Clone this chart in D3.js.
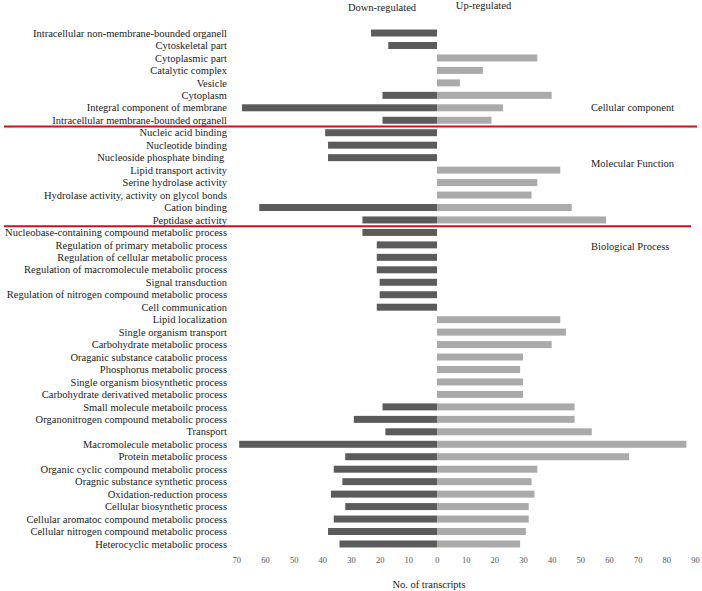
<!DOCTYPE html>
<html><head><meta charset="utf-8">
<script src="https://cdn.jsdelivr.net/npm/d3@7"></script>
<style>body{margin:0;background:#fff}svg{display:block}text{font-family:"Liberation Serif","Times New Roman",serif}</style>
</head><body>
<svg id="c" width="702" height="591"></svg>
<script>
const categories = [
"Intracellular non-membrane-bounded organell","Cytoskeletal part","Cytoplasmic part","Catalytic complex","Vesicle","Cytoplasm","Integral component of membrane","Intracellular membrane-bounded organell",
"Nucleic acid binding","Nucleotide binding","Nucleoside phosphate binding ","Lipid transport activity","Serine hydrolase activity","Hydrolase activity, activity on glycol bonds","Cation binding","Peptidase activity",
"Nucleobase-containing compound metabolic process","Regulation of primary metabolic process","Regulation of cellular metabolic process","Regulation of macromolecule metabolic process","Signal transduction","Regulation of nitrogen compound metabolic process","Cell communication","Lipid localization","Single organism transport","Carbohydrate metabolic process","Oraganic substance catabolic process","Phosphorus metabolic process","Single organism biosynthetic process","Carbohydrate derivatived metabolic process","Small molecule metaboilc process","Organonitrogen compound metabolic process","Transport","Macromolecule metabolic process","Protein metabolic process","Organic cyclic compound metabolic process","Oragnic substance synthetic process","Oxidation-reduction process","Cellular biosynthetic process","Cellular aromatoc compound metabolic process","Cellular nitrogen compound metabolic process","Heterocyclic metabolic process"];
const downValues = [23,17,0,0,0,19,68,19, 39,38,38,0,0,0,62,26, 26,21,21,21,20,20,21,0,0,0,0,0,0,0,19,29,18,69,32,36,33,37,32,36,38,34];
const upValues   = [0,0,35,16,8,40,23,19, 0,0,0,43,35,33,47,59, 0,0,0,0,0,0,0,43,45,40,30,29,30,30,48,48,54,87,67,35,33,34,32,32,31,29];
const groupNames = ["Cellular component","Molecular Function","Biological Process"];
const groupLabelRows = [6,10.45,17.1];
const separatorAfterRows = [7,15];
const tickValues = [-70,-60,-50,-40,-30,-20,-10,0,10,20,30,40,50,60,70,80,90];

const svg = d3.select("#c");
const x = d3.scaleLinear().domain([-70,90]).range([236.3,695]);
const y = d3.scaleBand().domain(d3.range(categories.length)).range([26.8,550.2]).paddingInner(0.44).paddingOuter(0.22);
const step = y.step();
const rowC = r => y(0) + y.bandwidth()/2 + r*step;

// bars
svg.append("g").selectAll("rect").data(downValues).join("rect")
  .attr("x",d=>x(-d)).attr("width",d=>x(0)-x(-d))
  .attr("y",(d,i)=>y(i)).attr("height",y.bandwidth()).attr("fill","#5b5b5b");
svg.append("g").selectAll("rect").data(upValues).join("rect")
  .attr("x",x(0)).attr("width",d=>x(d)-x(0))
  .attr("y",(d,i)=>y(i)).attr("height",y.bandwidth()).attr("fill","#aaaaaa");

// category labels
svg.append("g").selectAll("text").data(categories).join("text")
  .attr("x",227).attr("y",(d,i)=>y(i)+y.bandwidth()/2).attr("dy","0.35em")
  .attr("text-anchor","end").attr("font-size",10.5).attr("fill","#1a1a1a")
  .style("white-space","pre").text(d=>d);

// separators
svg.append("g").selectAll("line").data(separatorAfterRows).join("line")
  .attr("x1",4).attr("x2",(d,i)=>i===0?697:691)
  .attr("y1",d=>rowC(d)+step/2).attr("y2",d=>rowC(d)+step/2)
  .attr("stroke","#c8141e").attr("stroke-width",2);

// group labels
svg.append("g").selectAll("text").data(groupNames).join("text")
  .attr("x",591).attr("y",(d,i)=>rowC(groupLabelRows[i])).attr("dy","0.35em")
  .attr("font-size",10.5).attr("fill","#1a1a1a").text(d=>d);

// headers
svg.append("text").attr("x",382).attr("y",7).attr("dy","0.35em").attr("text-anchor","middle").attr("font-size",10.5).attr("fill","#1a1a1a").text("Down-regulated");
svg.append("text").attr("x",483.5).attr("y",5).attr("dy","0.35em").attr("text-anchor","middle").attr("font-size",10.5).attr("fill","#1a1a1a").text("Up-regulated");

// axis
const ax = svg.append("g").attr("transform","translate(0,555)")
  .call(d3.axisBottom(x).tickValues(tickValues).tickFormat(d=>Math.abs(d)).tickSize(0).tickPadding(2));
ax.select(".domain").remove();
ax.selectAll("text").attr("font-size",8.5).attr("fill","#555").style("font-family","'Liberation Serif',serif");

svg.append("text").attr("x",429).attr("y",584).attr("dy","0.35em").attr("text-anchor","middle").attr("font-size",10.5).attr("fill","#1a1a1a").text("No. of transcripts");
</script>
</body></html>
